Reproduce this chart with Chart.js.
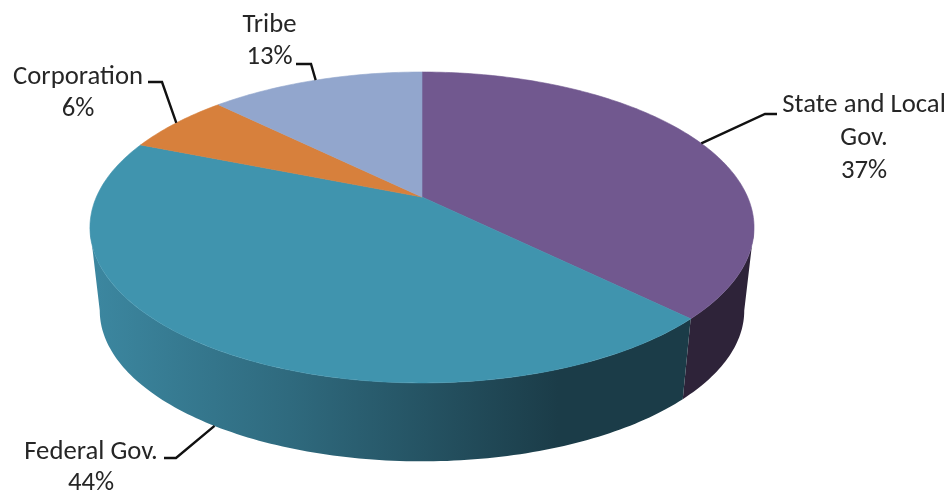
<!DOCTYPE html>
<html>
<head>
<meta charset="utf-8">
<title>3D pie</title>
<script src="https://cdn.jsdelivr.net/npm/chart.js@4"></script>
<style>
  html, body { margin: 0; padding: 0; background: #fff; }
  canvas { display: block; }
</style>
</head>
<body>
<canvas id="grafico" width="950" height="492"></canvas>
<script>
// Datos
const categories = ['State and Local Gov.', 'Federal Gov.', 'Corporation', 'Tribe'];
const values = [37.4, 43.7, 6.3, 12.6];
const percentLabels = ['37%', '44%', '6%', '13%'];

// Estilos
const topColors = ['#71588F', '#4094AE', '#D7803C', '#92A6CD'];
const sideStops = [
  [['#2E2339', 0], ['#2E2339', 1]],
  [['#3C87A0', 0], ['#2F6A7E', 0.33], ['#1B3C48', 0.78], ['#1B3C48', 1]],
  [['#6B401E', 0], ['#6B401E', 1]],
  [['#495366', 0], ['#495366', 1]]
];

// Geometria del pastel en perspectiva
const TOP = { x: 422, y: 197, a: 325.6, b: 149.5 };
const BOTTOM = { x: 422, y: 281, a: 316, b: 145 };
const PERSP = 0.196;
const FRONT_START = Math.asin(PERSP);
const FRONT_END = Math.PI - FRONT_START;

// Etiquetas: lineas de texto, centro, codo de la guia y aro donde termina
const labelLayout = [
  { lines: ['State and Local', 'Gov.'], x: 864, y: [105, 138, 171], elbow: [[777, 114], [765, 114]], rim: TOP },
  { lines: ['Federal Gov.'], x: 91, y: [452, 483], elbow: [[164, 458], [176, 458]], rim: BOTTOM },
  { lines: ['Corporation'], x: 78, y: [77, 109], elbow: [[148, 82], [162, 82]], rim: TOP },
  { lines: ['Tribe'], x: 269.5, y: [25, 57], elbow: [[296, 64], [311, 64]], rim: TOP }
];

function project(rim, angle) {
  const u = Math.cos(angle), v = Math.sin(angle), w = 1 - PERSP * v;
  return [rim.x + rim.a * u / w, rim.y + rim.b * v / w];
}

function rimPoints(rim, start, end) {
  const pts = [];
  const steps = Math.max(2, Math.ceil((end - start) / (Math.PI / 180)));
  for (let i = 0; i <= steps; i++) {
    pts.push(project(rim, start + (end - start) * i / steps));
  }
  return pts;
}

function tracePoints(ctx, pts) {
  pts.forEach((p, i) => i ? ctx.lineTo(p[0], p[1]) : ctx.moveTo(p[0], p[1]));
}

const pie3d = {
  id: 'pie3d',
  beforeDatasetsDraw(chart) {
    const ctx = chart.ctx;
    const arcs = chart.getDatasetMeta(0).data;
    ctx.save();

    // Lado del cilindro, solo la parte que mira al frente
    arcs.forEach((arc, i) => {
      const start = Math.max(arc.startAngle, FRONT_START);
      const end = Math.min(arc.endAngle, FRONT_END);
      if (end <= start) return;
      const upper = rimPoints(TOP, start, end);
      const lower = rimPoints(BOTTOM, start, end).reverse();
      const grad = ctx.createLinearGradient(92, 0, 690, 0);
      sideStops[i].forEach(s => grad.addColorStop(s[1], s[0]));
      ctx.beginPath();
      tracePoints(ctx, upper.concat(lower));
      ctx.closePath();
      ctx.fillStyle = grad;
      ctx.fill();
    });

    // Cara superior
    arcs.forEach(arc => {
      ctx.beginPath();
      ctx.moveTo(TOP.x, TOP.y);
      rimPoints(TOP, arc.startAngle, arc.endAngle).forEach(p => ctx.lineTo(p[0], p[1]));
      ctx.closePath();
      ctx.fillStyle = arc.options.backgroundColor;
      ctx.strokeStyle = arc.options.backgroundColor;
      ctx.lineWidth = 0.6;
      ctx.fill();
      ctx.stroke();
    });

    // Guias y etiquetas
    ctx.font = '26.7px Carlito, Lato, sans-serif';
    ctx.textAlign = 'center';
    ctx.textBaseline = 'middle';
    arcs.forEach((arc, i) => {
      const lay = labelLayout[i];
      const mid = (arc.startAngle + arc.endAngle) / 2;
      ctx.beginPath();
      tracePoints(ctx, lay.elbow.concat([project(lay.rim, mid)]));
      ctx.strokeStyle = '#111';
      ctx.lineWidth = 2.4;
      ctx.stroke();
      ctx.fillStyle = '#262626';
      lay.lines.concat([percentLabels[i]]).forEach((t, j) => ctx.fillText(t, lay.x, lay.y[j]));
    });

    ctx.restore();
    return false;
  }
};

new Chart(document.querySelector('#grafico').getContext('2d'), {
  type: 'pie',
  data: {
    labels: categories,
    datasets: [{ data: values, backgroundColor: topColors, borderWidth: 0 }]
  },
  options: {
    responsive: false,
    animation: false,
    devicePixelRatio: 1,
    plugins: { legend: { display: false }, tooltip: { enabled: false } }
  },
  plugins: [pie3d]
});
</script>
</body>
</html>
